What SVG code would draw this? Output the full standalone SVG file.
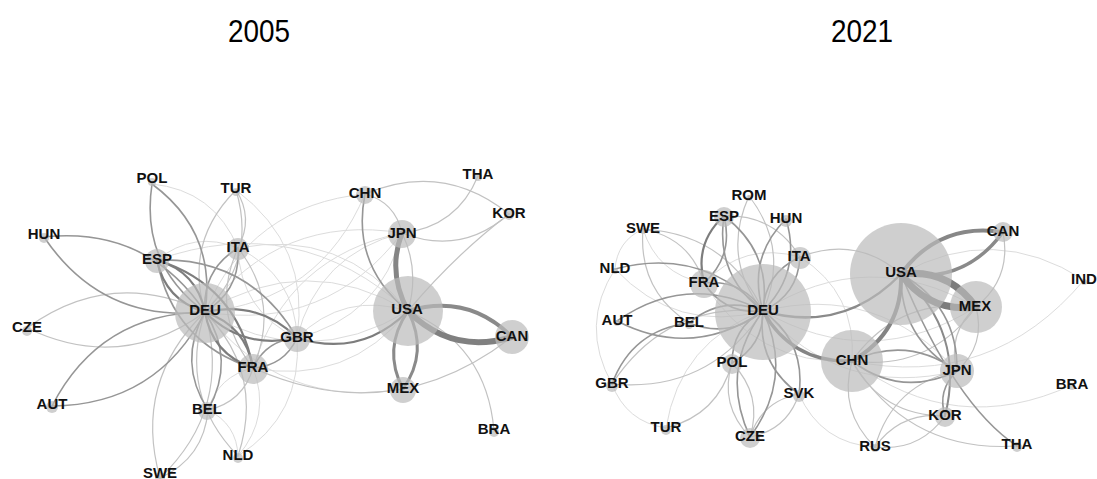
<svg xmlns="http://www.w3.org/2000/svg" width="1097" height="479" viewBox="0 0 1097 479">
  <style>
    .edges path { fill: none; stroke-linecap: round; }
    .e0 { stroke: #dcdcdc; stroke-width: 1; }
    .e1 { stroke: #c2c2c2; stroke-width: 1.2; }
    .e2 { stroke: #969696; stroke-width: 1.6; }
    .e3 { stroke: #7d7d7d; stroke-width: 2.2; }
    .nd { fill: #bbbbbb; fill-opacity: 0.7; }
    .lb { font-family: "Liberation Sans", Arial, sans-serif; font-weight: bold; font-size: 15px; fill: #111; text-anchor: middle; }
    .tt { font-family: "Liberation Sans", Arial, sans-serif; font-size: 31px; fill: #000; text-anchor: middle; }
  </style>
  <rect width="1097" height="479" fill="#fff"/>

  <!-- panel titles -->
  <text class="tt" x="259" y="42" textLength="62" lengthAdjust="spacingAndGlyphs">2005</text>
  <text class="tt" x="862" y="42" textLength="62" lengthAdjust="spacingAndGlyphs">2021</text>

  <!-- ===== 2005 network: connectors ===== -->
  <g id="edges-2005" class="edges">
    <!-- faint long-range links -->
    <path class="e0" d="M402,233 Q280,213 205,312"/>
    <path class="e0" d="M402,233 Q327,332 205,312"/>
    <path class="e0" d="M402,233 Q318,254 297,338"/>
    <path class="e0" d="M402,233 Q381,317 297,338"/>
    <path class="e0" d="M408,311 Q306,250 205,312"/>
    <path class="e0" d="M408,311 Q307,372 205,312"/>
    <path class="e0" d="M253,368 Q348,386 408,311"/>
    <path class="e0" d="M365,194 Q250,205 205,312"/>
    <path class="e0" d="M365,194 Q320,301 205,312"/>
    <path class="e0" d="M297,338 Q344,291 408,311"/>
    <path class="e0" d="M238,456 Q237,424 208,410"/>
    <path class="e0" d="M238,456 Q272,416 253,368"/>
    <path class="e0" d="M238,456 Q303,415 297,338"/>
    <path class="e0" d="M236,190 Q311,246 297,338"/>
    <path class="e0" d="M238,248 Q295,275 297,338"/>
    <path class="e0" d="M238,248 Q240,311 297,338"/>
    <path class="e0" d="M152,184 Q214,190 238,248"/>
    <path class="e0" d="M157,260 Q194,230 238,248"/>
    <path class="e0" d="M157,260 Q298,210 408,311"/>
    <path class="e0" d="M238,248 Q342,228 408,311"/>
    <path class="e0" d="M205,312 Q281,410 403,389"/>
    <path class="e0" d="M253,368 Q287,256 402,233"/>
    <path class="e0" d="M208,410 Q218,376 253,368"/>
    <!-- light links -->
    <path class="e1" d="M27,328 Q121,373 205,312"/>
    <path class="e1" d="M27,328 Q111,267 205,312"/>
    <path class="e1" d="M205,312 Q133,382 160,478"/>
    <path class="e1" d="M205,312 Q232,409 160,478"/>
    <path class="e1" d="M205,312 Q178,394 238,456"/>
    <path class="e1" d="M205,312 Q265,374 238,456"/>
    <path class="e1" d="M236,190 Q184,242 205,312"/>
    <path class="e1" d="M236,190 Q257,260 205,312"/>
    <path class="e1" d="M236,190 Q254,218 238,248"/>
    <path class="e1" d="M238,248 Q209,312 253,368"/>
    <path class="e1" d="M238,248 Q281,303 253,368"/>
    <path class="e1" d="M160,478 Q204,458 208,410"/>
    <path class="e1" d="M208,410 Q243,402 253,368"/>
    <path class="e1" d="M365,194 Q395,202 402,233"/>
    <path class="e1" d="M365,194 Q443,161 509,214"/>
    <path class="e1" d="M509,214 Q461,256 402,233"/>
    <path class="e1" d="M509,214 Q455,255 408,311"/>
    <path class="e1" d="M408,311 Q487,345 494,431"/>
    <path class="e1" d="M253,368 Q392,430 512,337"/>
    <path class="e1" d="M408,311 Q420,270 402,233"/>
    <!-- medium links -->
    <path class="e2" d="M44,237 Q102,323 205,312"/>
    <path class="e2" d="M44,237 Q147,226 205,312"/>
    <path class="e2" d="M52,406 Q157,405 205,312"/>
    <path class="e2" d="M52,406 Q100,313 205,312"/>
    <path class="e2" d="M152,184 Q140,264 205,312"/>
    <path class="e2" d="M152,184 Q217,232 205,312"/>
    <path class="e2" d="M238,248 Q202,270 205,312"/>
    <path class="e2" d="M238,248 Q241,290 205,312"/>
    <path class="e2" d="M205,312 Q177,362 208,410"/>
    <path class="e2" d="M205,312 Q236,360 208,410"/>
    <path class="e2" d="M157,260 Q250,257 297,338"/>
    <path class="e2" d="M253,368 Q284,366 297,338"/>
    <path class="e2" d="M253,368 Q266,340 297,338"/>
    <path class="e2" d="M157,260 Q173,343 253,368"/>
    <path class="e2" d="M365,194 Q351,265 408,311"/>
    <path class="e1" d="M478,176 Q457,227 402,233"/>
    <!-- strong links -->
    <path class="e3" d="M157,260 Q165,300 205,312"/>
    <path class="e3" d="M157,260 Q197,272 205,312"/>
    <path class="e3" d="M157,260 Q237,285 253,368"/>
    <path class="e3" d="M205,312 Q212,354 253,368"/>
    <path class="e3" d="M205,312 Q246,326 253,368"/>
    <path class="e3" d="M205,312 Q243,350 297,338"/>
    <path class="e3" d="M205,312 Q259,300 297,338"/>
    <path class="e3" d="M297,338 Q361,358 408,311"/>
    <path d="M408,311 Q382,349 403,389" stroke="#8a8a8a" stroke-width="3"/>
    <path d="M408,311 Q429,352 403,389" stroke="#8a8a8a" stroke-width="3"/>
    <path d="M402,233 Q387,272 408,311" stroke="#858585" stroke-width="5"/>
    <path d="M408,311 Q468,293 512,337" stroke="#8a8a8a" stroke-width="4"/>
    <path d="M408,311 Q452,355 512,337" stroke="#808080" stroke-width="6"/>
  </g>

  <!-- ===== 2005 network: nodes ===== -->
  <g id="n05-POL"><circle class="nd" cx="152" cy="182" r="4"/><text class="lb" x="152" y="183">POL</text></g>
  <g id="n05-TUR"><circle class="nd" cx="236" cy="192" r="4"/><text class="lb" x="236" y="193">TUR</text></g>
  <g id="n05-HUN"><circle class="nd" cx="44" cy="238" r="5"/><text class="lb" x="44" y="239">HUN</text></g>
  <g id="n05-ESP"><circle class="nd" cx="157" cy="261" r="12"/><text class="lb" x="157" y="264">ESP</text></g>
  <g id="n05-ITA"><circle class="nd" cx="238" cy="249" r="11"/><text class="lb" x="238" y="252">ITA</text></g>
  <g id="n05-DEU"><circle class="nd" cx="205" cy="313" r="30"/><text class="lb" x="205" y="315">DEU</text></g>
  <g id="n05-CZE"><circle class="nd" cx="27" cy="331" r="5"/><text class="lb" x="27" y="332">CZE</text></g>
  <g id="n05-GBR"><circle class="nd" cx="297" cy="339" r="13"/><text class="lb" x="297" y="342">GBR</text></g>
  <g id="n05-FRA"><circle class="nd" cx="253" cy="369" r="15"/><text class="lb" x="253" y="372">FRA</text></g>
  <g id="n05-AUT"><circle class="nd" cx="52" cy="407" r="6"/><text class="lb" x="52" y="409">AUT</text></g>
  <g id="n05-BEL"><circle class="nd" cx="207" cy="411" r="9"/><text class="lb" x="207" y="414">BEL</text></g>
  <g id="n05-NLD"><circle class="nd" cx="238" cy="458" r="5"/><text class="lb" x="238" y="460">NLD</text></g>
  <g id="n05-SWE"><circle class="nd" cx="160" cy="477" r="5"/><text class="lb" x="160" y="478">SWE</text></g>
  <g id="n05-CHN"><circle class="nd" cx="365" cy="195" r="9"/><text class="lb" x="365" y="198">CHN</text></g>
  <g id="n05-THA"><circle class="nd" cx="478" cy="177" r="4"/><text class="lb" x="478" y="179">THA</text></g>
  <g id="n05-KOR"><circle class="nd" cx="509" cy="215" r="5"/><text class="lb" x="509" y="218">KOR</text></g>
  <g id="n05-JPN"><circle class="nd" cx="402" cy="234" r="14"/><text class="lb" x="402" y="238">JPN</text></g>
  <g id="n05-USA"><circle class="nd" cx="408" cy="311" r="35"/><text class="lb" x="407" y="314">USA</text></g>
  <g id="n05-CAN"><circle class="nd" cx="512" cy="337" r="17"/><text class="lb" x="512" y="341">CAN</text></g>
  <g id="n05-MEX"><circle class="nd" cx="403" cy="390" r="13"/><text class="lb" x="403" y="393">MEX</text></g>
  <g id="n05-BRA"><circle class="nd" cx="494" cy="432" r="5"/><text class="lb" x="494" y="434">BRA</text></g>

  <!-- ===== 2021 network: connectors ===== -->
  <g id="edges-2021" class="edges">
    <!-- faint long-range links -->
    <path class="e0" d="M901,274 Q994,222 1084,280"/>
    <path class="e0" d="M1084,280 Q992,390 852,361"/>
    <path class="e0" d="M1072,385 Q955,439 852,361"/>
    <path class="e0" d="M763,311 Q842,399 957,371"/>
    <path class="e0" d="M763,311 Q878,283 957,371"/>
    <path class="e0" d="M763,311 Q868,245 976,307"/>
    <path class="e0" d="M763,311 Q871,373 976,307"/>
    <path class="e0" d="M799,394 Q821,444 875,447"/>
    <path class="e0" d="M615,269 Q579,325 612,384"/>
    <path class="e0" d="M643,229 Q617,241 615,269"/>
    <path class="e0" d="M643,229 Q657,274 704,283"/>
    <path class="e0" d="M612,384 Q626,422 666,428"/>
    <path class="e0" d="M704,283 Q744,241 800,257"/>
    <path class="e0" d="M800,257 Q857,293 852,361"/>
    <path class="e0" d="M704,283 Q755,366 852,361"/>
    <path class="e0" d="M666,428 Q680,341 763,311"/>
    <path class="e0" d="M615,269 Q676,334 763,311"/>
    <!-- light links -->
    <path class="e1" d="M749,196 Q721,258 763,311"/>
    <path class="e1" d="M749,196 Q790,249 763,311"/>
    <path class="e1" d="M643,229 Q728,234 763,311"/>
    <path class="e1" d="M643,229 Q690,238 704,283"/>
    <path class="e1" d="M643,229 Q638,290 689,323"/>
    <path class="e1" d="M612,384 Q709,393 763,311"/>
    <path class="e1" d="M612,384 Q666,302 763,311"/>
    <path class="e1" d="M666,428 Q718,415 732,363"/>
    <path class="e1" d="M750,437 Q763,395 732,363"/>
    <path class="e1" d="M750,437 Q719,405 732,363"/>
    <path class="e1" d="M750,437 Q787,430 799,394"/>
    <path class="e1" d="M750,437 Q762,401 799,394"/>
    <path class="e1" d="M724,216 Q774,214 800,257"/>
    <path class="e1" d="M800,257 Q856,235 901,274"/>
    <path class="e1" d="M852,361 Q882,416 945,416"/>
    <path class="e1" d="M852,361 Q909,453 1017,446"/>
    <path class="e1" d="M852,361 Q838,411 875,447"/>
    <path class="e1" d="M875,447 Q919,452 945,416"/>
    <path class="e1" d="M875,447 Q901,411 945,416"/>
    <path class="e1" d="M875,447 Q893,384 957,371"/>
    <path class="e1" d="M976,307 Q1012,278 1003,232"/>
    <path class="e1" d="M976,307 Q947,333 957,371"/>
    <path class="e1" d="M976,307 Q986,345 957,371"/>
    <path class="e1" d="M976,307 Q898,297 852,361"/>
    <path class="e1" d="M976,307 Q930,371 852,361"/>
    <!-- medium links around DEU -->
    <path class="e2" d="M763,311 Q742,279 704,283"/>
    <path class="e2" d="M763,311 Q725,315 704,283"/>
    <path class="e2" d="M724,216 Q715,275 763,311"/>
    <path class="e2" d="M724,216 Q772,252 763,311"/>
    <path class="e2" d="M786,219 Q747,258 763,311"/>
    <path class="e2" d="M786,219 Q802,272 763,311"/>
    <path class="e2" d="M800,257 Q765,273 763,311"/>
    <path class="e2" d="M800,257 Q798,295 763,311"/>
    <path class="e2" d="M732,363 Q763,346 763,311"/>
    <path class="e2" d="M732,363 Q732,328 763,311"/>
    <path class="e2" d="M750,437 Q794,378 763,311"/>
    <path class="e2" d="M750,437 Q719,370 763,311"/>
    <path class="e2" d="M799,394 Q806,342 763,311"/>
    <path class="e2" d="M799,394 Q756,363 763,311"/>
    <path class="e2" d="M617,321 Q693,360 763,311"/>
    <path class="e2" d="M617,321 Q687,272 763,311"/>
    <path class="e2" d="M689,323 Q730,339 763,311"/>
    <path class="e2" d="M689,323 Q722,295 763,311"/>
    <path class="e2" d="M689,323 Q632,330 612,384"/>
    <path class="e2" d="M615,269 Q702,246 763,311"/>
    <path class="e3" d="M724,216 Q694,243 704,283"/>
    <path class="e2" d="M724,216 Q734,256 704,283"/>
    <!-- medium links around USA / Asia -->
    <path class="e2" d="M901,274 Q900,339 957,371"/>
    <path class="e2" d="M901,274 Q958,306 957,371"/>
    <path class="e2" d="M852,361 Q901,398 957,371"/>
    <path class="e2" d="M852,361 Q908,335 957,371"/>
    <path class="e2" d="M945,416 Q937,390 957,371"/>
    <path class="e2" d="M901,274 Q955,405 1017,446"/>
    <path d="M901,274 Q966,332 945,416" stroke="#8a8a8a" stroke-width="2"/>
    <!-- strong links -->
    <path d="M763,311 Q843,334 901,274" stroke="#8a8a8a" stroke-width="2.5"/>
    <path d="M763,311 Q792,363 852,361" stroke="#848484" stroke-width="3.5"/>
    <path d="M852,361 Q903,332 901,274" stroke="#848484" stroke-width="4"/>
    <path d="M901,274 Q939,222 1003,232" stroke="#878787" stroke-width="4"/>
    <path d="M901,274 Q965,284 1003,232" stroke="#8a8a8a" stroke-width="3.5"/>
    <path d="M901,274 Q929,313 976,307" stroke="#7c7c7c" stroke-width="7"/>
    <path d="M901,274 Q948,268 976,307" stroke="#7c7c7c" stroke-width="7"/>
  </g>

  <!-- ===== 2021 network: nodes ===== -->
  <g id="n21-ROM"><circle class="nd" cx="749" cy="198" r="3"/><text class="lb" x="749" y="200">ROM</text></g>
  <g id="n21-ESP"><circle class="nd" cx="724" cy="217" r="10"/><text class="lb" x="724" y="221">ESP</text></g>
  <g id="n21-HUN"><circle class="nd" cx="786" cy="221" r="6"/><text class="lb" x="786" y="223">HUN</text></g>
  <g id="n21-SWE"><circle class="nd" cx="643" cy="231" r="3"/><text class="lb" x="643" y="233">SWE</text></g>
  <g id="n21-ITA"><circle class="nd" cx="800" cy="258" r="11"/><text class="lb" x="799" y="261">ITA</text></g>
  <g id="n21-NLD"><circle class="nd" cx="615" cy="271" r="3"/><text class="lb" x="615" y="273">NLD</text></g>
  <g id="n21-FRA"><circle class="nd" cx="704" cy="284" r="14"/><text class="lb" x="704" y="287">FRA</text></g>
  <g id="n21-DEU"><circle class="nd" cx="763" cy="312" r="48"/><text class="lb" x="763" y="315">DEU</text></g>
  <g id="n21-AUT"><circle class="nd" cx="617" cy="323" r="3"/><text class="lb" x="617" y="325">AUT</text></g>
  <g id="n21-BEL"><circle class="nd" cx="689" cy="325" r="4"/><text class="lb" x="689" y="327">BEL</text></g>
  <g id="n21-POL"><circle class="nd" cx="732" cy="364" r="10"/><text class="lb" x="732" y="367">POL</text></g>
  <g id="n21-GBR"><circle class="nd" cx="612" cy="386" r="6"/><text class="lb" x="612" y="388">GBR</text></g>
  <g id="n21-SVK"><circle class="nd" cx="799" cy="396" r="6"/><text class="lb" x="799" y="398">SVK</text></g>
  <g id="n21-TUR"><circle class="nd" cx="666" cy="430" r="5"/><text class="lb" x="666" y="432">TUR</text></g>
  <g id="n21-CZE"><circle class="nd" cx="750" cy="438" r="10"/><text class="lb" x="750" y="441">CZE</text></g>
  <g id="n21-CHN"><circle class="nd" cx="852" cy="361" r="31"/><text class="lb" x="852" y="365">CHN</text></g>
  <g id="n21-USA"><circle class="nd" cx="901" cy="274" r="51"/><text class="lb" x="901" y="277">USA</text></g>
  <g id="n21-CAN"><circle class="nd" cx="1003" cy="232" r="10"/><text class="lb" x="1003" y="236">CAN</text></g>
  <g id="n21-MEX"><circle class="nd" cx="976" cy="307" r="26"/><text class="lb" x="975" y="311">MEX</text></g>
  <g id="n21-IND"><circle class="nd" cx="1084" cy="282" r="3"/><text class="lb" x="1084" y="284">IND</text></g>
  <g id="n21-JPN"><circle class="nd" cx="957" cy="371" r="17"/><text class="lb" x="957" y="375">JPN</text></g>
  <g id="n21-BRA"><circle class="nd" cx="1072" cy="387" r="3"/><text class="lb" x="1072" y="389">BRA</text></g>
  <g id="n21-KOR"><circle class="nd" cx="945" cy="417" r="10"/><text class="lb" x="945" y="420">KOR</text></g>
  <g id="n21-RUS"><circle class="nd" cx="875" cy="448" r="4"/><text class="lb" x="875" y="451">RUS</text></g>
  <g id="n21-THA"><circle class="nd" cx="1017" cy="447" r="5"/><text class="lb" x="1017" y="449">THA</text></g>
</svg>
